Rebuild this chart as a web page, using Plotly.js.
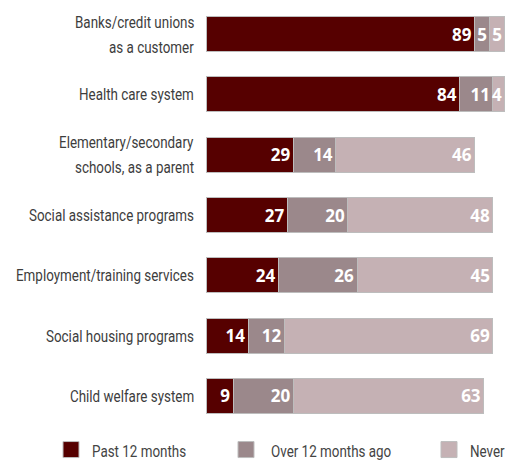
<!DOCTYPE html>
<html>
<head>
<meta charset="utf-8">
<script src="https://cdn.plot.ly/plotly-3.0.1.min.js"></script>
<style>html,body{margin:0;padding:0;background:#fff;}#chart{width:526px;height:462px;}</style>
</head>
<body>
<div id="chart"></div>
<script>
var categories = [
  "Banks/credit unions<br>as a customer",
  "Health care system",
  "Elementary/secondary<br>schools, as a parent",
  "Social assistance programs",
  "Employment/training services",
  "Social housing programs",
  "Child welfare system"
];
var seriesNames = ["Past 12 months", "Over 12 months ago", "Never"];
var past12 = [89, 84, 29, 27, 24, 14, 9];
var over12 = [5, 11, 14, 20, 26, 12, 20];
var never = [5, 4, 46, 48, 45, 69, 63];
var colors = ["#560000", "#9b888b", "#c5b1b4"];

var labelFont = "Roboto, 'Liberation Sans', sans-serif";
var labelSize = 17;
function measure(family, size, txt) {
  var s = document.createElement("span");
  s.style.cssText = "position:absolute;visibility:hidden;white-space:nowrap;";
  s.style.fontFamily = family;
  s.style.fontSize = size + "px";
  s.textContent = txt;
  document.body.appendChild(s);
  var w = s.getBoundingClientRect().width;
  document.body.removeChild(s);
  return w;
}
// the reference uses a condensed face: squeeze the label text horizontally to the same width
var squeeze = Math.min(1, 178 / measure(labelFont, labelSize, "Employment/training services"));
var css = document.createElement("style");
css.textContent =
  "text.annotation-text{transform-box:fill-box !important;transform-origin:100% 50% !important;transform:scaleX(" + squeeze + ") !important;}";
document.head.appendChild(css);

var valueFont = "'Open Sans', 'DejaVu Sans', sans-serif";

var values = [past12, over12, never];
var traces = [];
values.forEach(function (vals, i) {
  traces.push({
    type: "bar",
    orientation: "h",
    y: categories,
    x: vals,
    name: seriesNames[i],
    text: vals.map(String),
    textposition: "inside",
    insidetextanchor: "end",
    textfont: {family: valueFont, size: 17, color: "#ffffff", weight: "bold"},
    marker: {color: colors[i], line: {color: "#bdbdbd", width: 1}},
    showlegend: false,
    hoverinfo: "none",
    width: 0.58
  });
});
// legend swatches (their captions are set as condensed annotations below)
values.forEach(function (vals, i) {
  traces.push({
    type: "scatter",
    mode: "markers",
    x: [null], y: [null],
    name: "",
    marker: {symbol: "square", size: 16, color: colors[i], line: {color: "#bdbdbd", width: 1}},
    showlegend: true,
    legend: i === 0 ? "legend" : ("legend" + (i + 1)),
    hoverinfo: "none"
  });
});

var annotations = [];
var lineGap = 25;
categories.forEach(function (cat) {
  var lines = cat.split("<br>");
  lines.forEach(function (ln, k) {
    annotations.push({
      xref: "x", yref: "y", x: 0, y: cat,
      xanchor: "right", yanchor: "middle",
      xshift: -10,
      yshift: ((lines.length - 1) / 2 - k) * lineGap,
      text: ln, showarrow: false,
      font: {family: labelFont, size: labelSize, color: "#3d3d3d"}
    });
  });
});
// legend captions, right edges as in the reference
var captionRight = [188, 393, 507];
seriesNames.forEach(function (nm, i) {
  annotations.push({
    xref: "paper", yref: "paper",
    x: (captionRight[i] - 206) / 302, y: (426 - 451) / 422,
    xanchor: "right", yanchor: "middle",
    text: nm, showarrow: false,
    font: {family: labelFont, size: labelSize, color: "#444"}
  });
});

function legendAt(x) {
  return {
    orientation: "h", xref: "container", yref: "container",
    x: x, xanchor: "left", y: 12 / 462, yanchor: "middle",
    font: {family: labelFont, size: labelSize, color: "#444"},
    bgcolor: "rgba(0,0,0,0)", borderwidth: 0, itemsizing: "trace"
  };
}

var layout = {
  width: 526, height: 462,
  margin: {l: 206, r: 18, t: 4, b: 36},
  paper_bgcolor: "#ffffff", plot_bgcolor: "#ffffff",
  barmode: "stack",
  uniformtext: {minsize: 17, mode: "show"},
  xaxis: {range: [0, 100], visible: false, fixedrange: true},
  yaxis: {
    autorange: "reversed", type: "category",
    showticklabels: false,
    showgrid: false, zeroline: false, showline: false
  },
  annotations: annotations,
  legend: legendAt(51 / 526),
  legend2: legendAt(226 / 526),
  legend3: legendAt(429 / 526),
  showlegend: true
};

Plotly.newPlot("chart", traces, layout, {displayModeBar: false, staticPlot: true});
</script>
</body>
</html>
